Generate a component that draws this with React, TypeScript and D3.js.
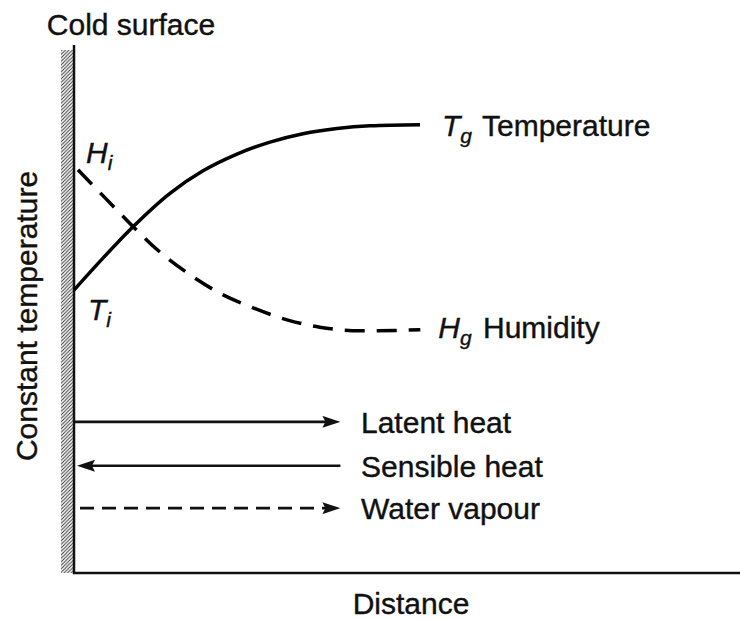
import React from 'react'
import * as d3 from 'd3'

// distance from the cold surface (0..10) and profile level (0..10)
const tempDistance = [0, 0.435, 0.871, 1.441, 1.937, 2.447, 2.943, 3.438, 3.949, 4.444, 5.195]
const tempLevel = [5.41, 6.02, 6.6, 7.26, 7.69, 8.01, 8.24, 8.4, 8.5, 8.55, 8.57]

const humDistance = [0.06, 0.69, 0.89, 1.25, 1.7, 2.19, 2.69, 3.2, 3.69, 4.29, 5.2]
const humLevel = [7.71, 6.88, 6.62, 6.18, 5.74, 5.35, 5.07, 4.84, 4.7, 4.63, 4.65]

// fluxes shown as arrows: label, level, direction (1 = away from wall), dashed
const fluxLabels = ['Latent heat', 'Sensible heat', 'Water vapour']
const fluxLevels = [2.89, 2.05, 1.24]
const fluxDirections = [1, -1, 1]
const fluxDashed = [false, false, true]
const fluxReach = 4.0

const W = 740
const H = 620
const FONT = '"Liberation Sans", Arial, sans-serif'

export default function App() {
  const x = d3.scaleLinear().domain([0, 10]).range([74, 740])
  const y = d3.scaleLinear().domain([0, 10]).range([573, 50])

  const line = d3.line<[number, number]>()
    .x(d => x(d[0]))
    .y(d => y(d[1]))
    .curve(d3.curveMonotoneX)

  const tempPath = line(tempDistance.map((d, i) => [d, tempLevel[i]]) as [number, number][]) || ''
  const humPath = line(humDistance.map((d, i) => [d, humLevel[i]]) as [number, number][]) || ''

  const tEnd = [x(tempDistance[tempDistance.length - 1]), y(tempLevel[tempLevel.length - 1])]
  const hEnd = [x(humDistance[humDistance.length - 1]), y(humLevel[humLevel.length - 1])]
  const tStart = y(tempLevel[0])
  const hStart = y(humLevel[0])

  const ink = { fill: '#111', stroke: '#111', strokeWidth: 0.4 }

  return (
    <svg width={W} height={H} style={{ position: 'absolute', left: 0, top: 0, background: '#fff' }}
      fontFamily={FONT} fontSize={30}>
      <defs>
        <pattern id="hatch" width="3.5" height="3.5" patternUnits="userSpaceOnUse">
          <path d="M-1,1 L1,-1 M0,3.5 L3.5,0 M2.5,4.5 L4.5,2.5" stroke="#333" strokeWidth="1" />
        </pattern>
        <marker id="head" viewBox="0 0 18 12" refX="10" refY="6" markerWidth="18" markerHeight="12"
          markerUnits="userSpaceOnUse" orient="auto">
          <path d="M0,0 L18,6 L0,12 L3,6 Z" fill="#111" />
        </marker>
      </defs>

      {/* cold wall with hatching */}
      <rect x={61} y={y(10)} width={12} height={y(0) - y(10)} fill="url(#hatch)" />
      <line x1={x(0)} x2={x(0)} y1={y(10) - 5} y2={y(0) + 1} stroke="#111" strokeWidth={2.5} />
      {/* distance axis */}
      <line x1={x(0) - 1} x2={x(10)} y1={y(0)} y2={y(0)} stroke="#111" strokeWidth={2.5} />

      {/* profiles */}
      <path d={tempPath} fill="none" stroke="#000" strokeWidth={3.5} />
      <path d={humPath} fill="none" stroke="#000" strokeWidth={3.5} strokeDasharray="20 12" />

      {/* flux arrows */}
      {fluxLabels.map((label, i) => {
        const yy = y(fluxLevels[i])
        const wallX = x(0) + (fluxDashed[i] ? 6 : 0)
        const farX = x(fluxReach)
        const from = fluxDirections[i] > 0 ? wallX : farX
        const to = fluxDirections[i] > 0 ? farX - 8 : x(0) + 3 + 8
        return (
          <g key={label}>
            <line x1={from} x2={to} y1={yy} y2={yy} stroke="#111" strokeWidth={fluxDashed[i] ? 2.8 : 2.6}
              strokeDasharray={fluxDashed[i] ? '14 8' : undefined} markerEnd="url(#head)" />
            <text x={361} y={yy + 11} {...ink}>{label}</text>
          </g>
        )
      })}

      {/* curve labels */}
      <text x={tEnd[0] + 22} y={tEnd[1] + 11} {...ink}>
        <tspan fontStyle="italic">T</tspan>
        <tspan fontStyle="italic" fontSize={21} dy={7}>g</tspan>
        <tspan x={482} dy={-7}>Temperature</tspan>
      </text>
      <text x={hEnd[0] + 18} y={hEnd[1] + 8} {...ink}>
        <tspan fontStyle="italic">H</tspan>
        <tspan fontStyle="italic" fontSize={21} dy={7}>g</tspan>
        <tspan x={483} dy={-7}>Humidity</tspan>
      </text>
      <text x={86} y={hStart - 7} {...ink}>
        <tspan fontStyle="italic">H</tspan>
        <tspan fontStyle="italic" fontSize={21} dy={7}>i</tspan>
      </text>
      <text x={88} y={tStart + 30} {...ink}>
        <tspan fontStyle="italic">T</tspan>
        <tspan fontStyle="italic" fontSize={21} dy={7}>i</tspan>
      </text>

      {/* titles */}
      <text x={131} y={35} textAnchor="middle" {...ink}>Cold surface</text>
      <text x={411} y={614} textAnchor="middle" {...ink}>Distance</text>
      <text transform={`translate(37,316) rotate(-90)`} textAnchor="middle" {...ink}>Constant temperature</text>
    </svg>
  )
}
